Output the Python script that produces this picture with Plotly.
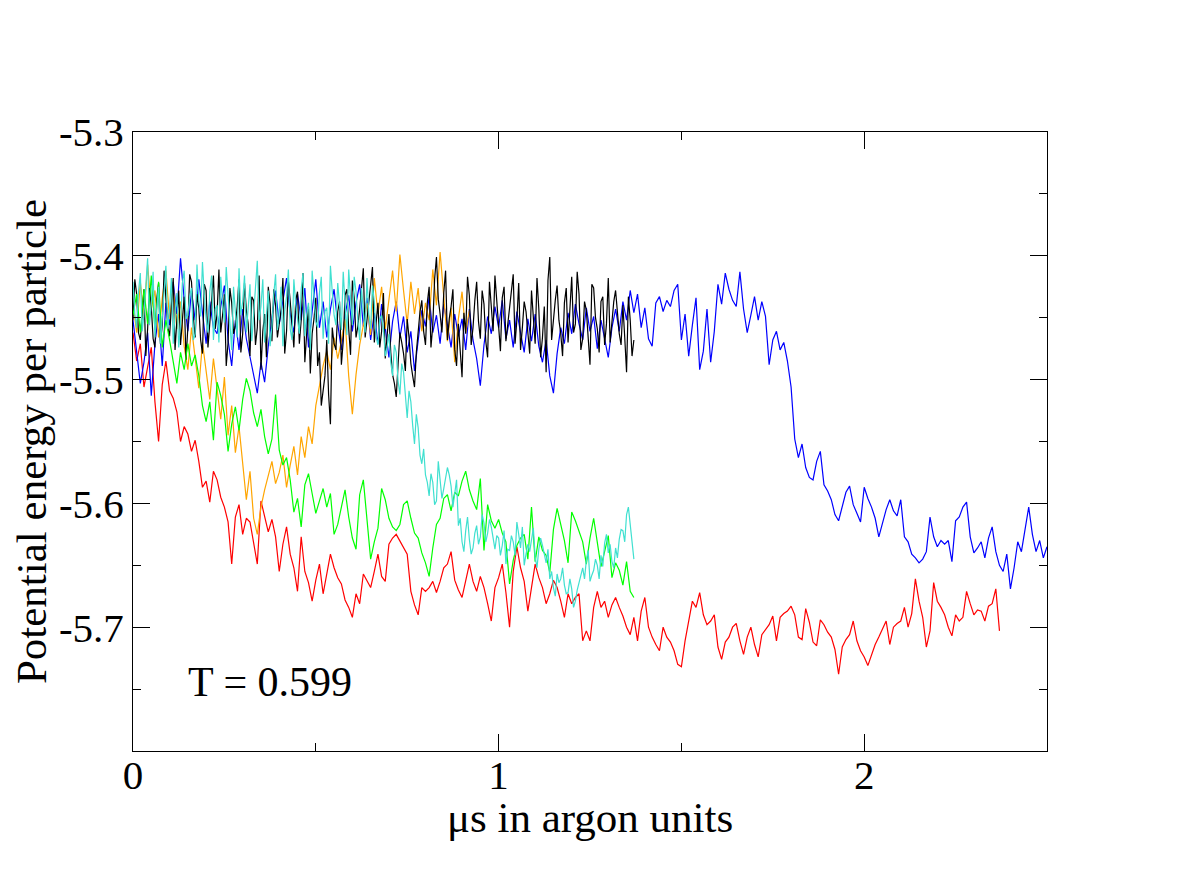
import plotly.graph_objects as go

# potential energy per particle; each run has its own sample spacing
red_dt = 0.01
red_e = [
    -5.462, -5.485, -5.471, -5.506, -5.490, -5.474, -5.518, -5.550, -5.504, -5.485,
    -5.509, -5.515, -5.526, -5.550, -5.538, -5.544, -5.558, -5.549, -5.566, -5.587,
    -5.582, -5.599, -5.574, -5.581, -5.595, -5.603, -5.615, -5.649, -5.611, -5.601,
    -5.625, -5.612, -5.615, -5.631, -5.649, -5.598, -5.610, -5.623, -5.613, -5.627,
    -5.655, -5.633, -5.619, -5.641, -5.652, -5.671, -5.627, -5.655, -5.664, -5.679,
    -5.662, -5.649, -5.673, -5.658, -5.641, -5.652, -5.660, -5.665, -5.678, -5.684,
    -5.692, -5.673, -5.681, -5.657, -5.663, -5.668, -5.655, -5.641, -5.659, -5.663,
    -5.633, -5.628, -5.625, -5.630, -5.636, -5.641, -5.671, -5.682, -5.690, -5.668,
    -5.671, -5.668, -5.663, -5.672, -5.663, -5.652, -5.649, -5.639, -5.662, -5.670,
    -5.676, -5.661, -5.649, -5.663, -5.671, -5.659, -5.668, -5.681, -5.695, -5.668,
    -5.660, -5.649, -5.672, -5.700, -5.655, -5.635, -5.652, -5.663, -5.687, -5.668,
    -5.649, -5.660, -5.668, -5.681, -5.673, -5.662, -5.668, -5.679, -5.692, -5.673,
    -5.681, -5.676, -5.673, -5.711, -5.703, -5.711, -5.684, -5.671, -5.684, -5.679,
    -5.692, -5.682, -5.676, -5.684, -5.691, -5.700, -5.706, -5.692, -5.711, -5.687,
    -5.676, -5.700, -5.708, -5.714, -5.719, -5.700, -5.708, -5.712, -5.719, -5.730,
    -5.732, -5.711, -5.695, -5.679, -5.684, -5.672, -5.690, -5.698, -5.695, -5.690,
    -5.716, -5.726, -5.712, -5.708, -5.700, -5.697, -5.711, -5.722, -5.708, -5.700,
    -5.714, -5.724, -5.706, -5.702, -5.698, -5.691, -5.711, -5.692, -5.689, -5.687,
    -5.683, -5.690, -5.708, -5.710, -5.685, -5.696, -5.712, -5.715, -5.694, -5.698,
    -5.704, -5.708, -5.718, -5.738, -5.716, -5.710, -5.706, -5.695, -5.711, -5.719,
    -5.724, -5.731, -5.722, -5.714, -5.708, -5.702, -5.695, -5.714, -5.700, -5.697,
    -5.695, -5.684, -5.700, -5.689, -5.661, -5.679, -5.692, -5.716, -5.703, -5.664,
    -5.679, -5.684, -5.690, -5.700, -5.707, -5.690, -5.695, -5.692, -5.671, -5.681,
    -5.690, -5.686, -5.687, -5.695, -5.683, -5.681, -5.669, -5.703,
]

blue_dt = 0.01
blue_e = [
    -5.452, -5.478, -5.503, -5.486, -5.462, -5.513, -5.471, -5.447, -5.489, -5.438,
    -5.456, -5.421, -5.447, -5.402, -5.435, -5.461, -5.428, -5.452, -5.419, -5.446,
    -5.471, -5.437, -5.458, -5.463, -5.441, -5.424, -5.468, -5.489, -5.452, -5.476,
    -5.443, -5.467, -5.482, -5.497, -5.511, -5.486, -5.502, -5.473, -5.449, -5.428,
    -5.455, -5.436, -5.418, -5.447, -5.462, -5.431, -5.452, -5.426, -5.474, -5.445,
    -5.419, -5.458, -5.437, -5.466, -5.443, -5.427, -5.455, -5.476, -5.448, -5.432,
    -5.461, -5.438, -5.423, -5.457, -5.434, -5.468, -5.446, -5.471, -5.439, -5.458,
    -5.482, -5.453, -5.437, -5.466, -5.449, -5.478, -5.461, -5.493, -5.468, -5.444,
    -5.457, -5.433, -5.462, -5.448, -5.471, -5.439, -5.456, -5.474, -5.447, -5.465,
    -5.451, -5.476, -5.443, -5.468, -5.483, -5.505, -5.472, -5.449, -5.463, -5.441,
    -5.458, -5.436, -5.467, -5.452, -5.474, -5.445, -5.462, -5.478, -5.451, -5.469,
    -5.447, -5.473, -5.486, -5.468, -5.497, -5.511, -5.479, -5.458, -5.471, -5.446,
    -5.463, -5.439, -5.455, -5.468, -5.442, -5.461, -5.449, -5.475, -5.452, -5.466,
    -5.482, -5.458, -5.443, -5.461, -5.437, -5.452, -5.428, -5.446, -5.431, -5.458,
    -5.442, -5.467, -5.473, -5.438, -5.433, -5.445, -5.436, -5.441, -5.428, -5.423,
    -5.468, -5.447, -5.481, -5.456, -5.434, -5.492, -5.477, -5.443, -5.486, -5.461,
    -5.423, -5.439, -5.414, -5.427, -5.436, -5.441, -5.413, -5.443, -5.462, -5.448,
    -5.433, -5.452, -5.437, -5.449, -5.488, -5.468, -5.461, -5.476, -5.470, -5.485,
    -5.506, -5.548, -5.563, -5.552, -5.571, -5.579, -5.581, -5.566, -5.558, -5.585,
    -5.590, -5.597, -5.609, -5.614, -5.602, -5.591, -5.586, -5.601, -5.608, -5.615,
    -5.587, -5.596, -5.603, -5.612, -5.627, -5.615, -5.605, -5.597, -5.606, -5.610,
    -5.597, -5.627, -5.631, -5.641, -5.644, -5.648, -5.645, -5.639, -5.611, -5.627,
    -5.635, -5.630, -5.633, -5.630, -5.647, -5.614, -5.611, -5.603, -5.599, -5.627,
    -5.640, -5.636, -5.631, -5.644, -5.628, -5.619, -5.639, -5.650, -5.655, -5.641,
    -5.669, -5.652, -5.631, -5.639, -5.620, -5.603, -5.625, -5.639, -5.630, -5.644,
    -5.635,
]

orange_dt = 0.01
orange_e = [
    -5.438, -5.462, -5.421, -5.449, -5.407, -5.443, -5.428, -5.466, -5.434, -5.412,
    -5.451, -5.425, -5.459, -5.437, -5.473, -5.492, -5.458, -5.481, -5.507, -5.470,
    -5.494, -5.516, -5.483, -5.509, -5.532, -5.498, -5.545, -5.521, -5.559, -5.538,
    -5.566, -5.597, -5.574, -5.612, -5.625, -5.603, -5.589, -5.577, -5.566, -5.584,
    -5.575, -5.561, -5.587, -5.569, -5.554, -5.577, -5.546, -5.563, -5.538, -5.552,
    -5.521, -5.505, -5.489, -5.477, -5.492, -5.466, -5.483, -5.469, -5.451, -5.497,
    -5.528, -5.496, -5.472, -5.456, -5.438, -5.464, -5.418, -5.447, -5.425, -5.459,
    -5.433, -5.412, -5.445, -5.399, -5.428, -5.455, -5.421, -5.447, -5.426, -5.461,
    -5.438, -5.452, -5.411, -5.440, -5.397, -5.433, -5.469, -5.442, -5.486, -5.451,
    -5.429, -5.462, -5.444,
]

black_dt = 0.005
black_e = [
    -5.452, -5.419, -5.431, -5.462, -5.468, -5.444, -5.427, -5.481, -5.459, -5.426,
    -5.441, -5.467, -5.474, -5.435, -5.422, -5.471, -5.456, -5.412, -5.437, -5.457,
    -5.465, -5.439, -5.418, -5.476, -5.449, -5.428, -5.472, -5.453, -5.433, -5.484,
    -5.458, -5.415, -5.421, -5.449, -5.466, -5.431, -5.442, -5.468, -5.479, -5.423,
    -5.428, -5.474, -5.453, -5.437, -5.416, -5.459, -5.447, -5.411, -5.462, -5.448,
    -5.431, -5.489, -5.470, -5.426, -5.438, -5.463, -5.456, -5.441, -5.419, -5.478,
    -5.463, -5.422, -5.444, -5.455, -5.481, -5.433, -5.436, -5.472, -5.458, -5.416,
    -5.492, -5.461, -5.447, -5.482, -5.425, -5.439, -5.469, -5.427, -5.440, -5.466,
    -5.455, -5.444, -5.418, -5.479, -5.461, -5.420, -5.437, -5.458, -5.474, -5.436,
    -5.429, -5.471, -5.452, -5.414, -5.486, -5.463, -5.441, -5.495, -5.463, -5.451,
    -5.434, -5.489, -5.478, -5.521, -5.506, -5.497, -5.468, -5.512, -5.536, -5.458,
    -5.471, -5.476, -5.445, -5.437, -5.488, -5.469, -5.432, -5.427, -5.459, -5.480,
    -5.420, -5.434, -5.466, -5.457, -5.443, -5.425, -5.410, -5.466, -5.452, -5.441,
    -5.427, -5.409, -5.470, -5.452, -5.438, -5.474, -5.461, -5.430, -5.483, -5.465,
    -5.447, -5.478, -5.496, -5.503, -5.514, -5.488, -5.462, -5.470, -5.479, -5.493,
    -5.451, -5.466, -5.487, -5.497, -5.506, -5.478, -5.458, -5.445, -5.436, -5.461,
    -5.472, -5.438, -5.425, -5.474, -5.456, -5.419, -5.401, -5.435, -5.447, -5.462,
    -5.430, -5.412, -5.468, -5.451, -5.441, -5.427, -5.476, -5.489, -5.455, -5.474,
    -5.498, -5.446, -5.463, -5.417, -5.432, -5.472, -5.458, -5.436, -5.421, -5.453,
    -5.467, -5.428, -5.439, -5.469, -5.482, -5.421, -5.445, -5.461, -5.416, -5.439,
    -5.458, -5.477, -5.434, -5.425, -5.469, -5.456, -5.441, -5.431, -5.415, -5.471,
    -5.452, -5.422, -5.476, -5.458, -5.437, -5.445, -5.460, -5.479, -5.428, -5.449,
    -5.471, -5.418, -5.443, -5.482, -5.466, -5.441, -5.494, -5.420, -5.401, -5.468,
    -5.449, -5.436, -5.424, -5.452, -5.463, -5.481, -5.438, -5.426, -5.470, -5.444,
    -5.417, -5.462, -5.455, -5.413, -5.431, -5.476, -5.467, -5.437, -5.444, -5.466,
    -5.488, -5.423, -5.426, -5.450, -5.459, -5.478, -5.437, -5.433, -5.472, -5.455,
    -5.418, -5.470, -5.451, -5.437, -5.428, -5.446, -5.463, -5.472, -5.440, -5.466,
    -5.494, -5.433, -5.452, -5.481, -5.468,
]

green_dt = 0.01
green_e = [
    -5.448, -5.431, -5.462, -5.427, -5.455, -5.416, -5.460, -5.421, -5.474, -5.452,
    -5.468, -5.487, -5.503, -5.478, -5.492, -5.471, -5.489, -5.480, -5.497, -5.521,
    -5.534, -5.518, -5.549, -5.502, -5.513, -5.528, -5.558, -5.536, -5.522, -5.541,
    -5.516, -5.499, -5.509, -5.527, -5.538, -5.524, -5.546, -5.560, -5.548, -5.512,
    -5.557, -5.569, -5.563, -5.581, -5.607, -5.596, -5.619, -5.585, -5.576, -5.592,
    -5.608, -5.598, -5.588, -5.603, -5.592, -5.625, -5.617, -5.603, -5.589, -5.611,
    -5.628, -5.637, -5.593, -5.581, -5.612, -5.645, -5.631, -5.620, -5.588, -5.597,
    -5.612, -5.619, -5.622, -5.617, -5.601, -5.598, -5.612, -5.624, -5.628, -5.640,
    -5.648, -5.659, -5.636, -5.617, -5.612, -5.596, -5.593, -5.606, -5.591, -5.594,
    -5.582, -5.574, -5.589, -5.598, -5.605, -5.580, -5.638, -5.601, -5.614, -5.620,
    -5.613, -5.624, -5.631, -5.665, -5.646, -5.634, -5.628, -5.625, -5.645, -5.603,
    -5.647, -5.627, -5.638, -5.642, -5.656, -5.621, -5.604, -5.618, -5.630, -5.648,
    -5.607, -5.614, -5.622, -5.631, -5.649, -5.628, -5.612, -5.633, -5.651, -5.639,
    -5.626, -5.660, -5.648, -5.654, -5.666, -5.647, -5.671, -5.676,
]

cyan_dt = 0.005
cyan_e = [
    -5.421, -5.447, -5.458, -5.429, -5.414, -5.461, -5.447, -5.419, -5.402, -5.456,
    -5.439, -5.413, -5.466, -5.444, -5.425, -5.471, -5.452, -5.427, -5.408, -5.459,
    -5.443, -5.418, -5.471, -5.446, -5.430, -5.474, -5.455, -5.422, -5.412, -5.451,
    -5.448, -5.433, -5.426, -5.468, -5.463, -5.407, -5.436, -5.449, -5.405, -5.432,
    -5.451, -5.462, -5.429, -5.416, -5.468, -5.443, -5.440, -5.470, -5.417, -5.438,
    -5.454, -5.409, -5.431, -5.457, -5.476, -5.425, -5.444, -5.466, -5.410, -5.448,
    -5.437, -5.416, -5.462, -5.441, -5.423, -5.469, -5.449, -5.428, -5.404, -5.452,
    -5.441, -5.419, -5.470, -5.448, -5.428, -5.473, -5.457, -5.431, -5.415, -5.460,
    -5.446, -5.425, -5.473, -5.445, -5.433, -5.411, -5.459, -5.468, -5.419, -5.439,
    -5.450, -5.463, -5.427, -5.414, -5.465, -5.447, -5.438, -5.476, -5.412, -5.434,
    -5.453, -5.458, -5.430, -5.417, -5.467, -5.445, -5.442, -5.471, -5.408, -5.429,
    -5.448, -5.456, -5.422, -5.440, -5.460, -5.413, -5.435, -5.464, -5.411, -5.433,
    -5.456, -5.417, -5.429, -5.452, -5.468, -5.426, -5.441, -5.462, -5.418, -5.447,
    -5.459, -5.424, -5.437, -5.466, -5.472, -5.451, -5.448, -5.459, -5.481, -5.474,
    -5.463, -5.486, -5.497, -5.472, -5.478, -5.501, -5.512, -5.487, -5.494, -5.516,
    -5.531, -5.509, -5.518, -5.537, -5.552, -5.528, -5.539, -5.561, -5.568, -5.556,
    -5.577, -5.583, -5.594, -5.576, -5.583, -5.601, -5.598, -5.566, -5.579, -5.596,
    -5.588, -5.580, -5.571, -5.577, -5.586, -5.603, -5.593, -5.581, -5.618, -5.612,
    -5.631, -5.639, -5.622, -5.611, -5.629, -5.641, -5.636, -5.624, -5.618, -5.633,
    -5.627, -5.609, -5.616, -5.631, -5.624, -5.613, -5.619, -5.628, -5.637, -5.626,
    -5.628, -5.642, -5.634, -5.622, -5.649, -5.637, -5.638, -5.626, -5.631, -5.642,
    -5.615, -5.625, -5.636, -5.619, -5.650, -5.641, -5.633, -5.639, -5.628, -5.620,
    -5.643, -5.652, -5.637, -5.628, -5.634, -5.641, -5.648, -5.637, -5.661, -5.655,
    -5.668, -5.675, -5.657, -5.664, -5.661, -5.652, -5.666, -5.673, -5.672, -5.661,
    -5.669, -5.684, -5.679, -5.670, -5.664, -5.657, -5.652, -5.661, -5.646, -5.638,
    -5.663, -5.658, -5.654, -5.645, -5.650, -5.661, -5.642, -5.651, -5.632, -5.625,
    -5.640, -5.633, -5.647, -5.652, -5.636, -5.644, -5.629, -5.621, -5.622, -5.631,
    -5.609, -5.603, -5.616, -5.628, -5.645,
]

y_tick_vals = [-5.3, -5.4, -5.5, -5.6, -5.7]
y_tick_text = ["-5.3", "-5.4", "-5.5", "-5.6", "-5.7"]
x_tick_vals = [0, 1, 2]
x_tick_text = ["0", "1", "2"]

# drawing order: first is at the bottom
runs = [
    (red_e, red_dt, "#ff0000"),
    (blue_e, blue_dt, "#0000ff"),
    (orange_e, orange_dt, "#ffa500"),
    (black_e, black_dt, "#000000"),
    (green_e, green_dt, "#00ff00"),
    (cyan_e, cyan_dt, "#40e0d0"),
]

SERIF = "Liberation Serif, Times New Roman, serif"

fig = go.Figure()
for energy, dt, colour in runs:
    t = [i * dt for i in range(len(energy))]
    fig.add_trace(go.Scatter(
        x=t, y=energy, mode="lines",
        line=dict(color=colour, width=1.2),
        showlegend=False, hoverinfo="skip",
    ))

fig.add_annotation(
    x=0.145, y=-5.744, xref="x", yref="y",
    text="T = 0.599", showarrow=False,
    xanchor="left", yanchor="middle",
    font=dict(size=42, family=SERIF, color="black"),
)
# x axis title, placed by hand so it sits as close to the tick labels as in the original
fig.add_annotation(
    x=0.5, y=0, xref="paper", yref="paper", yshift=-66,
    text="\u03bcs in argon units", showarrow=False,
    xanchor="center", yanchor="middle",
    font=dict(size=43, family=SERIF, color="black"),
)

axis_common = dict(
    showline=True, linecolor="black", linewidth=1, mirror="ticks",
    ticks="inside", ticklen=17, tickwidth=1, tickcolor="black",
    showgrid=False, zeroline=False, automargin=False,
    tickfont=dict(size=41, family=SERIF, color="black"),
    title_font=dict(size=43, family=SERIF, color="black"),
)

fig.update_xaxes(
    range=[0, 2.5], tickmode="array", tickvals=x_tick_vals, ticktext=x_tick_text,
    minor=dict(dtick=0.5, tick0=0, ticks="inside", ticklen=8, tickcolor="black", showgrid=False),
    ticklabelstandoff=-12,
    **axis_common,
)
fig.update_yaxes(
    range=[-5.8, -5.3], tickmode="array", tickvals=y_tick_vals, ticktext=y_tick_text,
    minor=dict(dtick=0.05, tick0=-5.3, ticks="inside", ticklen=8, tickcolor="black", showgrid=False),
    title_text="Potential energy per particle", title_standoff=14,
    **axis_common,
)

# the page adds an 8 px body margin, so the figure is drawn 8 px smaller
fig.update_layout(
    width=1171, height=875,
    margin=dict(l=125, r=132, t=124, b=132),
    paper_bgcolor="white", plot_bgcolor="white",
    font=dict(family=SERIF, color="black"),
)

fig.write_html("out.html")
